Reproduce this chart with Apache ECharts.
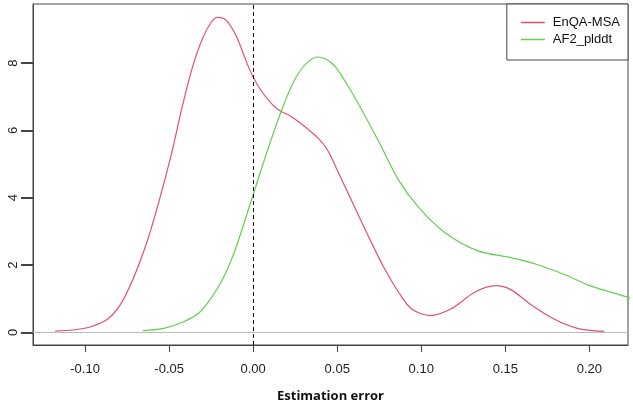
<!DOCTYPE html>
<html>
<head>
<meta charset="utf-8">
<script src="https://cdn.jsdelivr.net/npm/echarts@6/dist/echarts.min.js"></script>
<style>
  html, body { margin: 0; padding: 0; background: #fff; }
  #main { width: 633px; height: 404px; }
</style>
</head>
<body>
<div id="main"></div>
<script>
// density estimates: [estimation error, density]
const enqaMsa = [
    [-0.1178, 0.04], [-0.1071, 0.07], [-0.097, 0.16], [-0.087, 0.38], [-0.0793, 0.8],
    [-0.0716, 1.57], [-0.0633, 2.67], [-0.0574, 3.65], [-0.0515, 4.74], [-0.0479, 5.45],
    [-0.042, 6.75], [-0.0361, 7.88], [-0.0302, 8.72], [-0.0249, 9.22], [-0.0213, 9.36],
    [-0.016, 9.27], [-0.010, 8.8], [-0.0053, 8.2], [-0.0006, 7.64], [0.0053, 7.14],
    [0.0112, 6.78], [0.0154, 6.6], [0.0213, 6.45], [0.0272, 6.25], [0.0349, 5.94],
    [0.039, 5.75], [0.0432, 5.5], [0.0465, 5.2], [0.0497, 4.85], [0.0568, 4.1],
    [0.0686, 2.85], [0.0775, 1.95], [0.0864, 1.2], [0.0941, 0.7], [0.1053, 0.5],
    [0.1178, 0.7], [0.132, 1.2], [0.1444, 1.39], [0.1533, 1.27], [0.1651, 0.83],
    [0.1793, 0.39], [0.1929, 0.12], [0.2089, 0.03]
]
const af2Plddt = [
    [-0.0657, 0.05], [-0.0538, 0.11], [-0.042, 0.3], [-0.032, 0.59], [-0.0243, 1.07],
    [-0.0183, 1.57], [-0.0142, 2.01], [-0.010, 2.55], [-0.0006, 4.0], [0.0053, 4.92],
    [0.0095, 5.55], [0.0154, 6.4], [0.0213, 7.15], [0.0272, 7.72], [0.033, 8.05],
    [0.0385, 8.18], [0.044, 8.1], [0.0491, 7.88], [0.0568, 7.29], [0.0669, 6.4],
    [0.0763, 5.51], [0.0864, 4.53], [0.0982, 3.73], [0.1142, 2.96], [0.1337, 2.42],
    [0.1533, 2.22], [0.1692, 2.01], [0.1852, 1.72], [0.2006, 1.38], [0.2213, 1.07],
    [0.232, 0.9]
]
const xTicks = [-0.10, -0.05, 0.00, 0.05, 0.10, 0.15, 0.20]
const yTicks = [0, 2, 4, 6, 8]

const chart = echarts.init(document.getElementById("main"), null, { renderer: "canvas" })

const font = "Liberation Sans"

const option = {
    animation: false,
    grid: {
        left: 33, right: 5, top: 4, bottom: 59,
        outerBoundsMode: "none",
        show: true, borderColor: "#444", borderWidth: 1
    },
    xAxis: {
        type: "value",
        min: -0.131,
        max: 0.223,
        name: "Estimation error",
        nameLocation: "middle",
        nameGap: 45,
        nameTextStyle: { fontFamily: "Open Sans", fontWeight: "bold", fontSize: 13, color: "#111" },
        axisLine: { show: true, onZero: false, lineStyle: { color: "#444" } },
        splitLine: { show: false },
        axisTick: { show: true, length: 7, customValues: xTicks, lineStyle: { color: "#444", width: 1 } },
        axisLabel: {
            customValues: xTicks,
            margin: 8,
            padding: [10, 0, 0, 0],
            fontFamily: font, fontSize: 13, color: "#222",
            formatter: v => v.toFixed(2)
        }
    },
    yAxis: {
        type: "value",
        min: -0.375,
        max: 9.755,
        axisLine: { show: true, onZero: false, lineStyle: { color: "#444" } },
        splitLine: { show: false },
        axisTick: { show: true, length: 12, customValues: yTicks, lineStyle: { color: "#444", width: 2 } },
        axisLabel: {
            customValues: yTicks,
            rotate: 90,
            margin: 13,
            fontFamily: font, fontSize: 13, color: "#222"
        }
    },
    legend: {
        right: 5,
        top: 4,
        orient: "vertical",
        backgroundColor: "#fff",
        borderColor: "#444",
        borderWidth: 1,
        borderRadius: 0,
        padding: [12, 8, 14, 14],
        itemGap: 4,
        itemWidth: 24,
        itemHeight: 1.5,
        icon: "rect",
        textStyle: { fontFamily: font, fontSize: 13, color: "#111", padding: [0, 0, 0, 3] },
        data: ["EnQA-MSA", "AF2_plddt"]
    },
    series: [
        {
            name: "EnQA-MSA",
            type: "line",
            data: enqaMsa,
            smooth: 0.3,
            showSymbol: false,
            clip: true,
            color: "#DF536B",
            lineStyle: { width: 1.2 },
            markLine: {
                silent: true,
                symbol: "none",
                label: { show: false },
                data: [
                    { yAxis: 0, lineStyle: { color: "#bbb", type: "solid", width: 1 } },
                    { xAxis: 0, lineStyle: { color: "#111", type: [4, 3], width: 1 } }
                ]
            }
        },
        {
            name: "AF2_plddt",
            type: "line",
            data: af2Plddt,
            smooth: 0.3,
            showSymbol: false,
            clip: true,
            color: "#61D04F",
            lineStyle: { width: 1.2 }
        }
    ]
}

chart.setOption(option)
</script>
</body>
</html>
